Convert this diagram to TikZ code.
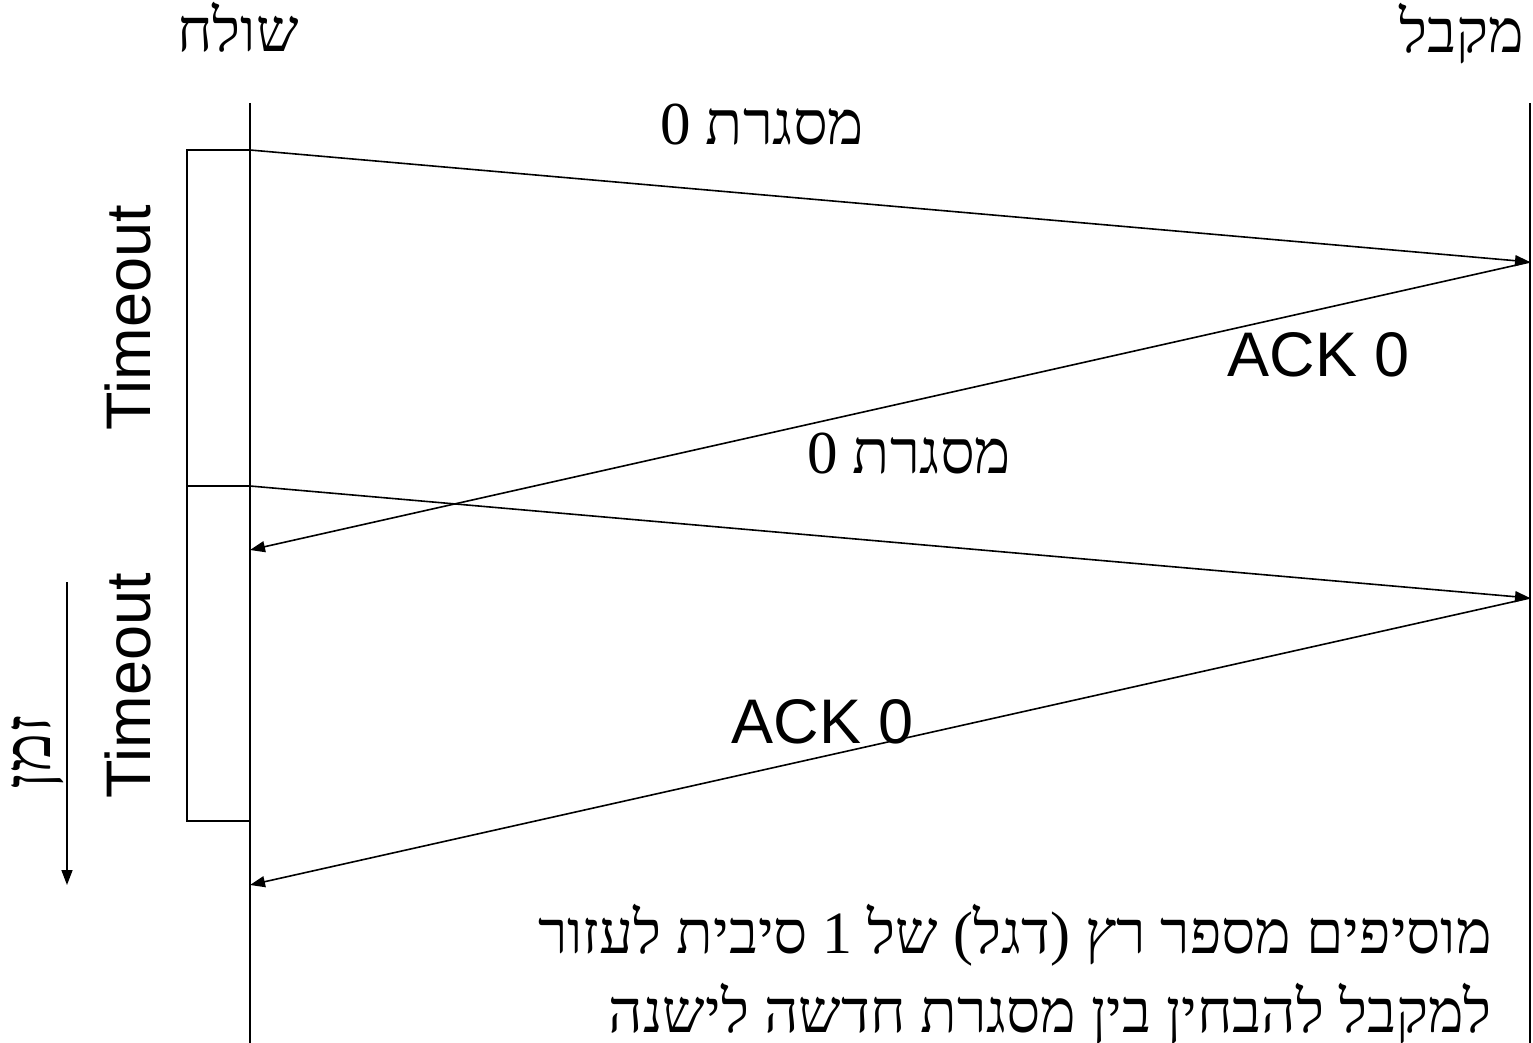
\documentclass[tikz,border=0pt]{standalone}
\usepackage{fontspec}
\setmainfont{Liberation Sans}
\newfontfamily\hebfont[Script=Hebrew]{Liberation Serif}
\TeXXeTstate=1
\usetikzlibrary{arrows.meta}
\tikzset{
  life/.style={line width=1.8pt},
  msg/.style={line width=1.6pt,-{Triangle[length=15pt,width=11pt]}},
  tbox/.style={line width=1.6pt},
  heb/.style={inner sep=0pt,font=\fontsize{60}{68}\selectfont\hebfont},
  hebs/.style={inner sep=0pt,font=\fontsize{61}{68}\selectfont\hebfont},
  lat/.style={inner sep=0pt,font=\fontsize{63}{70}\selectfont},
}
\begin{document}
\begin{tikzpicture}[x=1pt,y=-1pt]
\useasboundingbox (0,0) rectangle (1533,1043);
% lifelines
\coordinate (s0) at (250,103);
\coordinate (s1) at (250,1043);
\coordinate (r0) at (1530,103);
\coordinate (r1) at (1530,1043);
\draw[life] (s0) -- (s1);
\draw[life] (r0) -- (r1);
% event points
\coordinate (sa) at (250,150);
\coordinate (ra) at (1530,262);
\coordinate (sb) at (250,550);
\coordinate (sc) at (250,486);
\coordinate (rc) at (1530,598);
\coordinate (sd) at (250,885);
\coordinate (se) at (250,821);
% timeout brackets
\draw[tbox] (sa) -- (187,150) -- (187,486) -- (sc);
\draw[tbox] (187,486) -- (187,821) -- (se);
% messages
\draw[msg] (sa) -- (ra);
\draw[msg] (ra) -- (sb);
\draw[msg] (sc) -- (rc);
\draw[msg] (rc) -- (sd);
% titles
\node[heb,anchor=base] (tsend) at (238,52) {\beginR שולח\endR};
\node[heb,anchor=base] (trecv) at (1462,53) {\beginR מקבל\endR};
% labels
\node[hebs,anchor=base] (f1) at (762,145) {\beginR מסגרת 0\endR};
\node[hebs,anchor=base] (f2) at (909,473) {\beginR מסגרת 0\endR};
\node[lat,anchor=base] (a1) at (1319,376) {ACK 0};
\node[lat,anchor=base] (a2) at (823,743) {ACK 0};
\node[lat,anchor=base,rotate=90] (to1) at (150,318) {Timeout};
\node[lat,anchor=base,rotate=90] (to2) at (150,686) {Timeout};
% time arrow
\coordinate (t0) at (67,582);
\coordinate (t1) at (67,885);
\draw[msg] (t0) -- (t1);
\node[inner sep=0pt,font=\fontsize{66}{70}\selectfont\hebfont,anchor=base,rotate=90] (time) at (50,752) {\beginR זמן\endR};
% note
\node[heb,anchor=base east] (n1) at (1492,953) {\beginR מוסיפים מספר רץ (דגל) של 1 סיבית לעזור\endR};
\node[heb,anchor=base east] (n2) at (1492,1032) {\beginR למקבל להבחין בין מסגרת חדשה לישנה\endR};
\end{tikzpicture}
\end{document}
